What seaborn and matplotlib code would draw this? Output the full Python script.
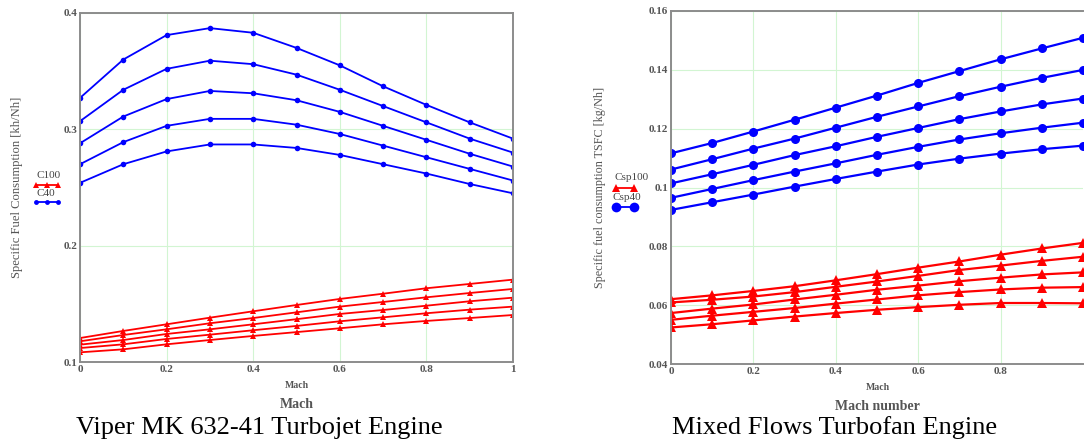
import numpy as np
import pandas as pd
import matplotlib
matplotlib.use("Agg")
import matplotlib.pyplot as plt
import seaborn as sns
from matplotlib.lines import Line2D

# %%
# data
mach = [0, 0.1, 0.2, 0.3, 0.4, 0.5, 0.6, 0.7, 0.8, 0.9, 1.0]

# Viper MK 632-41 turbojet, C40 (blue) and C100 (red), five curves each
viper_c40 = [
    [0.327, 0.360, 0.381, 0.387, 0.383, 0.370, 0.355, 0.337, 0.321, 0.306, 0.292],
    [0.307, 0.334, 0.352, 0.359, 0.356, 0.347, 0.334, 0.320, 0.306, 0.292, 0.280],
    [0.288, 0.311, 0.326, 0.333, 0.331, 0.325, 0.315, 0.303, 0.291, 0.279, 0.268],
    [0.270, 0.289, 0.303, 0.309, 0.309, 0.304, 0.296, 0.286, 0.276, 0.266, 0.256],
    [0.254, 0.270, 0.281, 0.287, 0.287, 0.284, 0.278, 0.270, 0.262, 0.253, 0.245],
]
viper_c100 = [
    [0.1206, 0.1267, 0.1324, 0.1381, 0.1436, 0.1490, 0.1542, 0.1587, 0.1634, 0.1671, 0.1708],
    [0.1178, 0.1232, 0.1281, 0.1333, 0.1378, 0.1427, 0.1476, 0.1516, 0.1556, 0.1593, 0.1628],
    [0.1149, 0.1189, 0.1241, 0.1281, 0.1324, 0.1368, 0.1413, 0.1447, 0.1484, 0.1522, 0.1553],
    [0.1120, 0.1152, 0.1198, 0.1235, 0.1273, 0.1310, 0.1350, 0.1384, 0.1419, 0.1450, 0.1476],
    [0.1083, 0.1109, 0.1152, 0.1189, 0.1224, 0.1257, 0.1290, 0.1324, 0.1353, 0.1378, 0.1404],
]

# Mixed flows turbofan, Csp40 (blue) and Csp100 (red)
fan_csp40 = [
    [0.1116, 0.1151, 0.1190, 0.1230, 0.1271, 0.1312, 0.1355, 0.1395, 0.1435, 0.1472, 0.1508],
    [0.1061, 0.1096, 0.1132, 0.1166, 0.1203, 0.1240, 0.1275, 0.1310, 0.1342, 0.1372, 0.1399],
    [0.1014, 0.1045, 0.1077, 0.1110, 0.1140, 0.1172, 0.1202, 0.1232, 0.1258, 0.1282, 0.1302],
    [0.0965, 0.0995, 0.1025, 0.1054, 0.1082, 0.1111, 0.1138, 0.1163, 0.1184, 0.1203, 0.1220],
    [0.0924, 0.0950, 0.0976, 0.1003, 0.1029, 0.1054, 0.1078, 0.1098, 0.1115, 0.1130, 0.1142],
]
fan_csp100 = [
    [0.0621, 0.0634, 0.0649, 0.0665, 0.0685, 0.0706, 0.0728, 0.0749, 0.0772, 0.0793, 0.0812],
    [0.0610, 0.0619, 0.0630, 0.0645, 0.0663, 0.0681, 0.0700, 0.0720, 0.0735, 0.0751, 0.0765],
    [0.0574, 0.0589, 0.0603, 0.0620, 0.0636, 0.0653, 0.0667, 0.0682, 0.0694, 0.0705, 0.0712],
    [0.0551, 0.0565, 0.0578, 0.0591, 0.0606, 0.0620, 0.0634, 0.0645, 0.0654, 0.0660, 0.0662],
    [0.0525, 0.0536, 0.0549, 0.0562, 0.0574, 0.0585, 0.0594, 0.0602, 0.0608, 0.0608, 0.0607],
]

viper_yticks = [0.1, 0.2, 0.3, 0.4]
viper_xticks = [0, 0.2, 0.4, 0.6, 0.8, 1.0]
fan_yticks = [0.04, 0.06, 0.08, 0.1, 0.12, 0.14, 0.16]
fan_xticks = [0, 0.2, 0.4, 0.6, 0.8]


def long_form(blue, red, blue_name, red_name):
    rows = []
    for i, curve in enumerate(blue):
        for m, v in zip(mach, curve):
            rows.append((m, v, blue_name, f"{blue_name}_{i}"))
    for i, curve in enumerate(red):
        for m, v in zip(mach, curve):
            rows.append((m, v, red_name, f"{red_name}_{i}"))
    return pd.DataFrame(rows, columns=["mach", "sfc", "series", "curve"])


viper = long_form(viper_c40, viper_c100, "C40", "C100")
fan = long_form(fan_csp40, fan_csp100, "Csp40", "Csp100")

# %%
sns.set_theme(style="white")
plt.rcParams["font.family"] = ["Liberation Serif", "DejaVu Serif"]

W, H = 1084, 443
fig = plt.figure(figsize=(W / 100, H / 100), dpi=100)


def px_axes(x0, x1, ytop, ybot):
    return fig.add_axes([x0 / W, 1 - ybot / H, (x1 - x0) / W, (ybot - ytop) / H])


ax1 = px_axes(80, 513, 13, 362)
ax2 = px_axes(671, 1083, 10.7, 364.3)

tick_col = "#555555"
grid_col = "#d2f5d2"


def style_axes(ax, xticks, yticks, ylim, hide_right=False):
    ax.set_xlim(0, 1)
    ax.set_ylim(*ylim)
    ax.set_xticks(xticks)
    ax.set_yticks(yticks)
    ax.set_xticklabels([f"{t:g}" for t in xticks])
    ax.set_yticklabels([f"{t:g}" for t in yticks])
    ax.grid(True, color=grid_col, linewidth=0.8)
    ax.set_axisbelow(True)
    ax.tick_params(length=0, pad=2, labelsize=8, labelcolor=tick_col)
    for lab in ax.get_xticklabels() + ax.get_yticklabels():
        lab.set_fontweight("bold")
    for s in ax.spines.values():
        s.set_color("#8c8c8c")
        s.set_linewidth(1.4)
    if hide_right:
        ax.spines["right"].set_visible(False)
    ax.set_xlabel("")
    ax.set_ylabel("")


sns.lineplot(data=viper, x="mach", y="sfc", hue="series", style="series",
             units="curve", estimator=None, ax=ax1,
             palette={"C40": "#0000ff", "C100": "#ff0000"},
             markers={"C40": "o", "C100": "^"}, dashes=False,
             markersize=4, markeredgewidth=0, linewidth=1.3, legend=False)
style_axes(ax1, viper_xticks, viper_yticks, (0.1, 0.4))

sns.lineplot(data=fan, x="mach", y="sfc", hue="series", style="series",
             units="curve", estimator=None, ax=ax2,
             palette={"Csp40": "#0000ff", "Csp100": "#ff0000"},
             markers={"Csp40": "o", "Csp100": "^"}, dashes=False,
             markersize=6.5, markeredgewidth=0, linewidth=1.6, legend=False)
style_axes(ax2, fan_xticks, fan_yticks, (0.04, 0.16), hide_right=True)


# axis titles and captions
def ftext(x, y, s, **kw):
    fig.text(x / W, 1 - y / H, s, ha="center", va="center", **kw)


ftext(297, 386, "Mach", fontsize=7, fontweight="bold", color="#555555")
ftext(297, 405, "Mach", fontsize=10, fontweight="bold", color="#555555")
ftext(259, 428, "Viper MK 632-41 Turbojet Engine", fontsize=19, color="black")
ftext(17, 187, "Specific Fuel Consumption [kh/Nh]", fontsize=9.1,
      rotation=90, color="#555555")

ftext(878, 387, "Mach", fontsize=7, fontweight="bold", color="#555555")
ftext(877, 406, "Mach number", fontsize=10, fontweight="bold", color="#555555")
ftext(835, 428, "Mixed Flows Turbofan Engine", fontsize=19, color="black")
ftext(600, 187, "Specific fuel consumption TSFC [kg/Nh]", fontsize=8.7,
      rotation=90, color="#555555")


# little legends left of each plot
def leg_line(x0, x1, y, color, marker, ms, n):
    xs = np.linspace(x0, x1, n) / W
    fig.add_artist(Line2D(xs, [1 - y / H] * n, color=color, marker=marker,
                          markersize=ms, markeredgewidth=0, linewidth=1.3,
                          transform=fig.transFigure))


ftext(49, 176, "C100", fontsize=8, color="#444444")
leg_line(36, 58, 185, "#ff0000", "^", 4, 3)
ftext(46, 194, "C40", fontsize=8, color="#444444")
leg_line(36, 58, 202, "#0000ff", "o", 3.5, 3)

ftext(632, 178, "Csp100", fontsize=8, color="#444444")
leg_line(616, 634, 188, "#ff0000", "^", 6, 2)
ftext(627, 197, "Csp40", fontsize=8, color="#444444")
leg_line(616, 634, 207, "#0000ff", "o", 7, 2)

plt.savefig("out.png", dpi=100)
